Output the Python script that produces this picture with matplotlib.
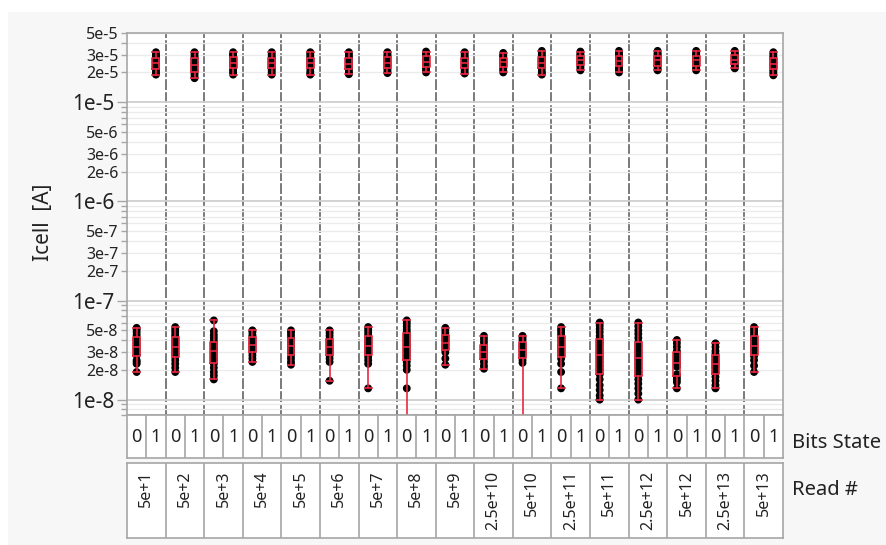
import matplotlib
matplotlib.use("Agg")
import matplotlib.pyplot as plt
from matplotlib.patches import Rectangle

plt.rcParams['font.family'] = ['Noto Sans', 'DejaVu Sans']

# Read # categories (outer grouping) and bit states (inner grouping)
read_labels = ["5e+1", "5e+2", "5e+3", "5e+4", "5e+5", "5e+6", "5e+7", "5e+8",
               "5e+9", "2.5e+10", "5e+10", "2.5e+11", "5e+11", "2.5e+12",
               "5e+12", "2.5e+13", "5e+13"]
bits_labels = ["0", "1"]

# Icell [A] measurements for bit state 0, one list per Read #
icell_bit0 = [
    [5.3e-8, 5.1e-8, 4.8e-8, 4.5e-8, 4.2e-8, 4.0e-8, 3.7e-8, 3.5e-8, 3.3e-8, 3.1e-8, 2.9e-8, 2.8e-8, 2.5e-8, 2.4e-8, 2.3e-8, 1.9e-8],
    [5.4e-8, 5.1e-8, 4.8e-8, 4.5e-8, 4.3e-8, 4.0e-8, 3.8e-8, 3.6e-8, 3.4e-8, 3.2e-8, 3.0e-8, 2.9e-8, 2.7e-8, 2.5e-8, 2.3e-8, 2.1e-8, 1.9e-8],
    [6.3e-8, 4.9e-8, 4.5e-8, 4.2e-8, 3.9e-8, 3.7e-8, 3.5e-8, 3.3e-8, 3.2e-8, 3.0e-8, 2.8e-8, 2.6e-8, 2.5e-8, 2.3e-8, 2.1e-8, 1.9e-8, 1.75e-8, 1.6e-8],
    [5.0e-8, 4.8e-8, 4.5e-8, 4.3e-8, 4.1e-8, 3.8e-8, 3.6e-8, 3.4e-8, 3.2e-8, 3.0e-8, 2.8e-8, 2.6e-8, 2.4e-8],
    [5.0e-8, 4.8e-8, 4.5e-8, 4.2e-8, 4.0e-8, 3.8e-8, 3.6e-8, 3.4e-8, 3.2e-8, 3.0e-8, 2.8e-8, 2.6e-8, 2.4e-8, 2.25e-8],
    [5.0e-8, 4.7e-8, 4.4e-8, 4.1e-8, 3.9e-8, 3.6e-8, 3.4e-8, 3.2e-8, 3.0e-8, 2.8e-8, 2.6e-8, 2.4e-8, 1.55e-8],
    [5.4e-8, 5.1e-8, 4.8e-8, 4.5e-8, 4.2e-8, 3.9e-8, 3.7e-8, 3.5e-8, 3.3e-8, 3.1e-8, 2.9e-8, 2.7e-8, 2.5e-8, 2.3e-8, 1.3e-8],
    [6.3e-8, 5.9e-8, 5.5e-8, 5.1e-8, 4.8e-8, 4.5e-8, 4.2e-8, 3.9e-8, 3.6e-8, 3.4e-8, 3.2e-8, 3.0e-8, 2.8e-8, 2.6e-8, 2.4e-8, 2.2e-8, 2.0e-8, 1.3e-8, 3.0e-9],
    [5.3e-8, 5.0e-8, 4.7e-8, 4.4e-8, 4.1e-8, 3.9e-8, 3.6e-8, 3.4e-8, 3.2e-8, 3.0e-8, 2.6e-8, 2.25e-8],
    [4.4e-8, 4.1e-8, 3.8e-8, 3.5e-8, 3.3e-8, 3.1e-8, 3.0e-8, 2.8e-8, 2.6e-8, 2.4e-8, 2.2e-8, 2.05e-8],
    [4.4e-8, 4.2e-8, 4.0e-8, 3.7e-8, 3.5e-8, 3.3e-8, 3.1e-8, 2.9e-8, 2.7e-8, 2.5e-8, 2.35e-8, 2.0e-9],
    [5.4e-8, 5.1e-8, 4.8e-8, 4.5e-8, 4.2e-8, 3.9e-8, 3.6e-8, 3.4e-8, 3.2e-8, 3.0e-8, 2.8e-8, 2.6e-8, 2.3e-8, 1.9e-8, 1.3e-8],
    [6.0e-8, 5.6e-8, 5.2e-8, 4.8e-8, 4.4e-8, 4.1e-8, 3.8e-8, 3.5e-8, 3.2e-8, 3.0e-8, 2.8e-8, 2.6e-8, 2.4e-8, 2.2e-8, 2.0e-8, 1.8e-8, 1.6e-8, 1.4e-8, 1.25e-8, 1.1e-8, 1.0e-8],
    [6.0e-8, 5.5e-8, 5.0e-8, 4.6e-8, 4.2e-8, 3.8e-8, 3.5e-8, 3.2e-8, 3.0e-8, 2.8e-8, 2.65e-8, 2.5e-8, 2.3e-8, 2.1e-8, 1.9e-8, 1.75e-8, 1.6e-8, 1.45e-8, 1.3e-8, 1.15e-8, 1.0e-8],
    [4.0e-8, 3.7e-8, 3.4e-8, 3.1e-8, 2.9e-8, 2.7e-8, 2.5e-8, 2.35e-8, 2.25e-8, 2.15e-8, 1.8e-8, 1.7e-8, 1.6e-8, 1.5e-8, 1.3e-8],
    [3.7e-8, 3.4e-8, 3.1e-8, 2.9e-8, 2.7e-8, 2.5e-8, 2.4e-8, 2.3e-8, 2.2e-8, 2.1e-8, 1.9e-8, 1.7e-8, 1.55e-8, 1.4e-8, 1.3e-8],
    [5.4e-8, 5.1e-8, 4.8e-8, 4.5e-8, 4.2e-8, 4.0e-8, 3.7e-8, 3.5e-8, 3.3e-8, 3.1e-8, 2.9e-8, 2.75e-8, 2.5e-8, 2.2e-8, 1.9e-8],
]

# Icell [A] measurements for bit state 1, one list per Read #
icell_bit1 = [
    [3.2e-5, 3.05e-5, 2.95e-5, 2.85e-5, 2.75e-5, 2.65e-5, 2.55e-5, 2.45e-5, 2.35e-5, 2.25e-5, 2.15e-5, 2.05e-5, 1.95e-5, 1.9e-5],
    [3.2e-5, 3.05e-5, 2.9e-5, 2.8e-5, 2.7e-5, 2.55e-5, 2.45e-5, 2.35e-5, 2.25e-5, 2.1e-5, 2.0e-5, 1.9e-5, 1.8e-5, 1.75e-5],
    [3.2e-5, 3.1e-5, 3.0e-5, 2.85e-5, 2.7e-5, 2.6e-5, 2.5e-5, 2.4e-5, 2.3e-5, 2.2e-5, 2.1e-5, 2.0e-5, 1.9e-5],
    [3.2e-5, 3.05e-5, 2.9e-5, 2.8e-5, 2.7e-5, 2.6e-5, 2.5e-5, 2.4e-5, 2.3e-5, 2.2e-5, 2.1e-5, 2.0e-5, 1.9e-5],
    [3.2e-5, 3.1e-5, 2.95e-5, 2.8e-5, 2.7e-5, 2.6e-5, 2.5e-5, 2.4e-5, 2.3e-5, 2.2e-5, 2.05e-5, 1.95e-5, 1.9e-5],
    [3.2e-5, 3.05e-5, 2.9e-5, 2.8e-5, 2.65e-5, 2.55e-5, 2.45e-5, 2.35e-5, 2.25e-5, 2.15e-5, 2.05e-5, 1.95e-5, 1.92e-5],
    [3.2e-5, 3.05e-5, 2.95e-5, 2.85e-5, 2.75e-5, 2.6e-5, 2.5e-5, 2.4e-5, 2.3e-5, 2.2e-5, 2.1e-5, 2.0e-5, 1.97e-5],
    [3.25e-5, 3.1e-5, 3.0e-5, 2.9e-5, 2.75e-5, 2.6e-5, 2.5e-5, 2.4e-5, 2.3e-5, 2.2e-5, 2.1e-5, 2.0e-5],
    [3.2e-5, 3.05e-5, 2.9e-5, 2.8e-5, 2.7e-5, 2.55e-5, 2.45e-5, 2.35e-5, 2.25e-5, 2.15e-5, 2.05e-5, 1.95e-5],
    [3.15e-5, 3.0e-5, 2.9e-5, 2.8e-5, 2.7e-5, 2.6e-5, 2.5e-5, 2.4e-5, 2.3e-5, 2.2e-5, 2.1e-5, 2.0e-5],
    [3.3e-5, 3.15e-5, 3.0e-5, 2.85e-5, 2.7e-5, 2.6e-5, 2.5e-5, 2.4e-5, 2.3e-5, 2.2e-5, 2.05e-5, 1.95e-5, 1.9e-5],
    [3.25e-5, 3.1e-5, 3.0e-5, 2.9e-5, 2.8e-5, 2.7e-5, 2.6e-5, 2.5e-5, 2.4e-5, 2.3e-5, 2.2e-5, 2.1e-5],
    [3.3e-5, 3.15e-5, 3.0e-5, 2.9e-5, 2.8e-5, 2.7e-5, 2.6e-5, 2.5e-5, 2.4e-5, 2.3e-5, 2.2e-5, 2.1e-5, 2.0e-5],
    [3.3e-5, 3.15e-5, 3.05e-5, 2.95e-5, 2.85e-5, 2.75e-5, 2.65e-5, 2.55e-5, 2.45e-5, 2.35e-5, 2.25e-5, 2.15e-5, 2.1e-5],
    [3.3e-5, 3.15e-5, 3.05e-5, 2.95e-5, 2.85e-5, 2.75e-5, 2.65e-5, 2.55e-5, 2.45e-5, 2.35e-5, 2.25e-5, 2.15e-5, 2.1e-5],
    [3.3e-5, 3.15e-5, 3.05e-5, 2.95e-5, 2.85e-5, 2.75e-5, 2.65e-5, 2.55e-5, 2.45e-5, 2.35e-5, 2.25e-5, 2.2e-5],
    [3.2e-5, 3.05e-5, 2.9e-5, 2.8e-5, 2.7e-5, 2.55e-5, 2.45e-5, 2.35e-5, 2.25e-5, 2.15e-5, 2.05e-5, 1.95e-5, 1.87e-5],
]

# Y axis ticks
major_ticks = [1e-8, 1e-7, 1e-6, 1e-5]
major_labels = ["1e-8", "1e-7", "1e-6", "1e-5"]
labelled_minor = [2, 3, 5]

W, H = 886, 545
fig = plt.figure(figsize=(W / 100, H / 100), dpi=100, facecolor="white")
fig.patches.append(Rectangle((8 / W, 0), 1, 1 - 12 / H, transform=fig.transFigure,
                             facecolor="#f7f7f7", edgecolor="none", zorder=-10))


def px_axes(x0, y0, x1, y1):
    return fig.add_axes([x0 / W, 1 - y1 / H, (x1 - x0) / W, (y1 - y0) / H])


n = len(read_labels)
grid_color = "#a6a6a6"
red = "#e8283f"

# ---- main plot ----
ax = px_axes(127, 33, 783, 415)
ax.set_facecolor("white")
ax.set_xlim(0, n)
ax.set_yscale("log")
ax.set_ylim(7e-9, 5e-5)

minor_pos, minor_lab = [], []
for e in range(-9, -4):
    for k in range(2, 10):
        v = k * 10.0 ** e
        if 7e-9 <= v <= 5e-5:
            minor_pos.append(v)
            minor_lab.append(f"{k}e{e}" if k in labelled_minor else "")
ax.set_yticks(major_ticks, major_labels)
ax.set_yticks(minor_pos, minor_lab, minor=True)
ax.tick_params(axis="y", which="major", labelsize=15, length=7, width=1,
               color=grid_color, pad=2, labelcolor="#222222")
ax.tick_params(axis="y", which="minor", labelsize=11.5, length=4, width=1,
               color=grid_color, pad=2, labelcolor="#222222")
ax.set_xticks([])
ax.grid(True, axis="y", which="major", color="#cfcfcf", lw=1.3, zorder=0)
ax.grid(True, axis="y", which="minor", color="#ebebeb", lw=1.0, zorder=0)
for s in ax.spines.values():
    s.set_color(grid_color)
    s.set_linewidth(1.2)

for i in range(1, n):
    ax.axvline(i, color="#707070", lw=1.3, ls=(0, (6, 1.2)), zorder=1)

pos0 = [i + 0.25 for i in range(n)]
pos1 = [i + 0.75 for i in range(n)]
for data, pos in ((icell_bit0, pos0), (icell_bit1, pos1)):
    for vals, p in zip(data, pos):
        ax.scatter([p] * len(vals), vals, s=32, color="black", edgecolors="none", zorder=3)
    ax.boxplot(data, positions=pos, widths=0.18, whis=(0, 100), showfliers=False,
               manage_ticks=False, capwidths=0.18,
               boxprops=dict(color=red, lw=1.2),
               whiskerprops=dict(color=red, lw=1.2),
               capprops=dict(color=red, lw=1.2),
               medianprops=dict(color=red, lw=1.2),
               zorder=4)

fig.text(43 / W, 1 - 222 / H, "Icell  [A]", rotation=90, ha="center", va="center",
         fontsize=15, color="#222222")

# ---- bits state row ----
axb = px_axes(127, 415, 783, 458)
axb.set_facecolor("white")
axb.set_xlim(0, n)
axb.set_ylim(0, 1)
axb.set_xticks([])
axb.set_yticks([])
for s in axb.spines.values():
    s.set_color(grid_color)
    s.set_linewidth(1.2)
for i in range(n):
    for j, lab in enumerate(bits_labels):
        axb.text(i + 0.25 + 0.5 * j, 0.5, lab, ha="center", va="center",
                 fontsize=13, color="#222222")
    axb.axvline(i + 0.5, color=grid_color, lw=1.2)
    if i > 0:
        axb.axvline(i, color=grid_color, lw=1.2)
fig.text(792 / W, 1 - 443 / H, "Bits State", ha="left", va="center",
         fontsize=14.5, color="#222222")

# ---- read # row ----
axr = px_axes(127, 463, 783, 538)
axr.set_facecolor("white")
axr.set_xlim(0, n)
axr.set_ylim(0, 1)
axr.set_xticks([])
axr.set_yticks([])
for s in axr.spines.values():
    s.set_color(grid_color)
    s.set_linewidth(1.2)
for i, lab in enumerate(read_labels):
    axr.text(i + 0.5, 0.9, lab, rotation=90, ha="center", va="top",
             fontsize=11.5, color="#222222")
    if i > 0:
        axr.axvline(i, color=grid_color, lw=1.2)
fig.text(792 / W, 1 - 490 / H, "Read #", ha="left", va="center",
         fontsize=14.5, color="#222222")

fig.savefig("out.png", dpi=100, facecolor=fig.get_facecolor())
